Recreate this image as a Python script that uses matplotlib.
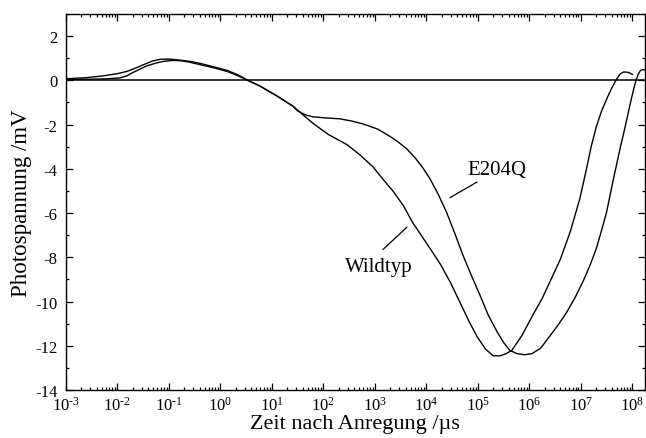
import numpy as np
import matplotlib
matplotlib.use('Agg')
import matplotlib.pyplot as plt
from matplotlib.ticker import LogLocator, MultipleLocator, NullFormatter, FuncFormatter

plt.rcParams['font.family'] = ['Liberation Serif', 'DejaVu Serif']
plt.rcParams['mathtext.fontset'] = 'custom'
plt.rcParams['mathtext.rm'] = 'Liberation Serif'
plt.rcParams['mathtext.it'] = 'Liberation Serif:italic'
plt.rcParams['axes.unicode_minus'] = False

# log10 of time (us) and photovoltage (mV)
wt_log_t = [-3.0, -2.6, -2.28, -2.0, -1.82, -1.65, -1.5, -1.32, -1.17, -1.0,
            -0.85, -0.6, -0.4, -0.15, 0.13, 0.35, 0.53, 0.77, 1.1, 1.41,
            1.6, 1.8, 2.1, 2.46, 2.7, 2.96, 3.15, 3.35, 3.55, 3.74,
            3.9, 4.1, 4.27, 4.47, 4.66, 4.83, 4.99, 5.15, 5.3, 5.43,
            5.55, 5.66, 5.85, 6.07, 6.25, 6.4, 6.6, 6.8, 6.98, 7.1,
            7.2, 7.3, 7.4, 7.52, 7.6, 7.68, 7.76, 7.83, 7.92, 8.0]
wt_mv = [0.07, 0.12, 0.2, 0.3, 0.4, 0.55, 0.7, 0.87, 0.95, 0.96,
         0.93, 0.86, 0.77, 0.62, 0.45, 0.24, 0.0, -0.26, -0.71, -1.17,
         -1.55, -1.95, -2.45, -2.91, -3.35, -3.9, -4.45, -5.0, -5.65, -6.45,
         -7.0, -7.7, -8.3, -9.15, -10.07, -10.9, -11.6, -12.15, -12.45, -12.45,
         -12.35, -12.2, -11.55, -10.6, -9.85, -9.1, -8.1, -6.8, -5.35, -4.1,
         -3.0, -2.1, -1.4, -0.75, -0.35, 0.0, 0.28, 0.38, 0.36, 0.27]

e204q_log_t = [-3.0, -2.5, -2.2, -1.95, -1.82, -1.7, -1.55, -1.43, -1.25, -1.1,
               -0.92, -0.75, -0.6, -0.4, -0.1, 0.13, 0.35, 0.53, 0.77, 1.1,
               1.41, 1.5, 1.65, 1.8, 2.05, 2.32, 2.55, 2.77, 3.05, 3.29,
               3.45, 3.62, 3.78, 3.93, 4.07, 4.23, 4.39, 4.55, 4.71, 4.88,
               5.04, 5.2, 5.37, 5.5, 5.62, 5.76, 5.91, 6.05, 6.22, 6.4,
               6.56, 6.72, 6.88, 7.04, 7.18, 7.3, 7.4, 7.5, 7.62, 7.76,
               7.86, 7.95, 8.02, 8.07, 8.12, 8.16, 8.2, 8.25]
e204q_mv = [0.04, 0.05, 0.07, 0.11, 0.2, 0.35, 0.52, 0.65, 0.78, 0.86,
            0.9, 0.88, 0.82, 0.71, 0.55, 0.4, 0.2, 0.0, -0.26, -0.71,
            -1.17, -1.38, -1.56, -1.65, -1.7, -1.74, -1.84, -1.97, -2.2, -2.53,
            -2.78, -3.1, -3.5, -3.95, -4.45, -5.15, -5.95, -6.9, -7.9, -8.85,
            -9.7, -10.6, -11.35, -11.85, -12.2, -12.35, -12.4, -12.35, -12.1, -11.55,
            -11.05, -10.5, -9.85, -9.1, -8.35, -7.6, -6.8, -5.95, -4.6, -3.1,
            -2.1, -1.15, -0.45, 0.0, 0.3, 0.45, 0.48, 0.46]

wt_t = 10.0 ** np.array(wt_log_t)
e204q_t = 10.0 ** np.array(e204q_log_t)


def decade_label(val, pos):
    # plain hyphen in the exponent, like the original
    exp = int(round(np.log10(val)))
    return r'$10^{\text{%d}}$' % exp


fig = plt.figure(figsize=(6.46, 4.39), dpi=100)
ax = fig.add_axes([0.102, 0.109, 0.896, 0.857])

ax.axhline(0, color='black', lw=1.1)
ax.plot(wt_t, wt_mv, color='black', lw=1.0)
ax.plot(e204q_t, e204q_mv, color='black', lw=1.0)

ax.set_xscale('log')
ax.set_xlim(1e-3, 10 ** 8.24)
ax.set_ylim(-14, 3)

ax.xaxis.set_major_locator(LogLocator(base=10, numticks=20))
ax.xaxis.set_major_formatter(FuncFormatter(decade_label))
ax.xaxis.set_minor_locator(LogLocator(base=10, subs=np.arange(2, 10), numticks=20))
ax.xaxis.set_minor_formatter(NullFormatter())
ax.yaxis.set_major_locator(MultipleLocator(2))
ax.yaxis.set_minor_locator(MultipleLocator(1))

ax.tick_params(which='both', direction='in', top=True, right=True,
               labelsize=12, width=0.9)
ax.tick_params(which='major', length=5)
ax.tick_params(which='minor', length=2.5)
ax.tick_params(axis='x', pad=4)
ax.tick_params(axis='y', pad=6)
for spine in ax.spines.values():
    spine.set_linewidth(1.0)

ax.set_xlabel('Zeit nach Anregung /µs', fontsize=16, labelpad=0.5)
ax.set_ylabel('Photospannung /mV', fontsize=16.5, labelpad=2)

# curve labels with pointer lines
ax.text(10 ** 5.37, -4.05, 'E204Q', fontsize=15, ha='center', va='center')
ax.plot([10 ** 4.98, 10 ** 4.46], [-4.6, -5.3], color='black', lw=0.9)
ax.text(10 ** 3.08, -8.4, 'Wildtyp', fontsize=15, ha='center', va='center')
ax.plot([10 ** 3.62, 10 ** 3.16], [-6.64, -7.64], color='black', lw=0.9)

fig.savefig('out.png', dpi=100)
